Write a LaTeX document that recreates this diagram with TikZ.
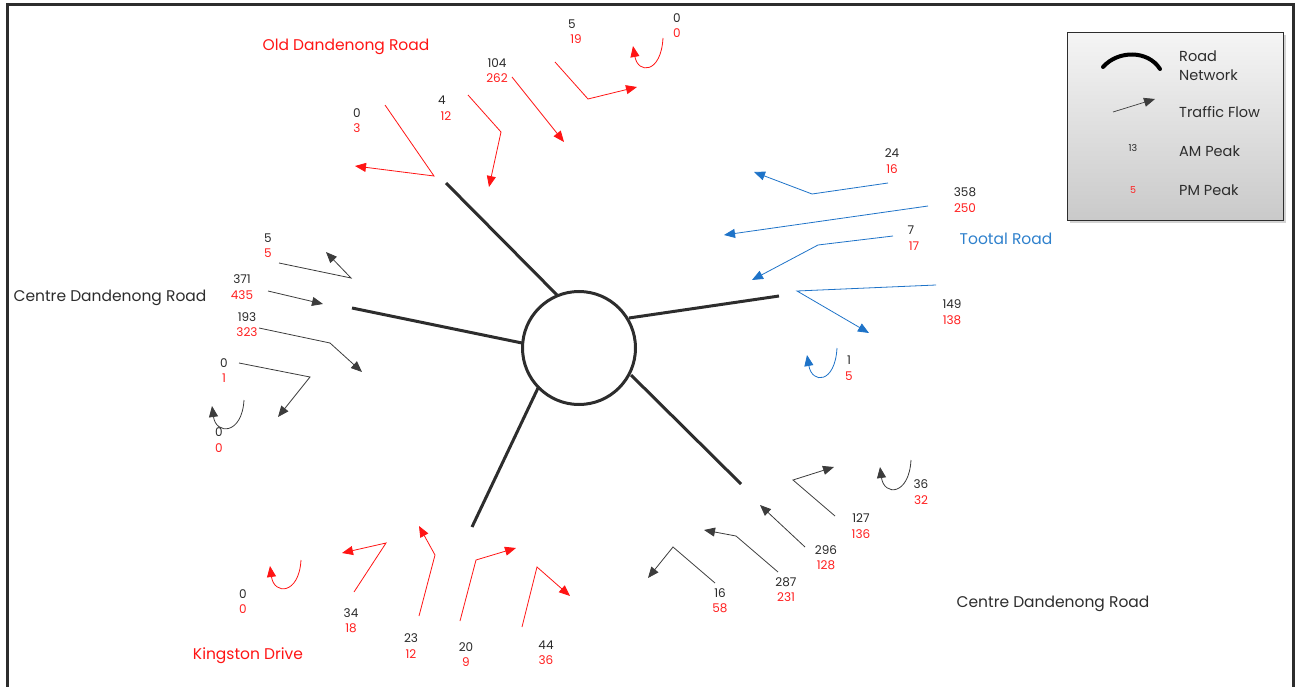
\documentclass[tikz,border=0pt]{standalone}
\usepackage{fontspec}
\setmainfont{Poppins}
\usetikzlibrary{arrows.meta,shadows}
\definecolor{flowred}{RGB}{255,20,20}
\definecolor{flowblue}{RGB}{30,115,200}
\definecolor{flowdark}{RGB}{60,60,60}
\definecolor{amtext}{RGB}{40,40,40}
\definecolor{pmtext}{RGB}{255,30,30}
\definecolor{roadgray}{RGB}{45,45,45}
\definecolor{tootal}{RGB}{46,128,204}
\begin{document}
\begin{tikzpicture}[x=1pt,y=-1pt,
  flowline/.style={line width=0.8pt,-{Triangle[length=11pt,width=9pt]}},
  redflow/.style={flowline,draw=flowred},
  blueflow/.style={flowline,draw=flowblue},
  darkflow/.style={flowline,draw=flowdark},
  roadline/.style={line width=3pt,draw=roadgray},
  am/.style={text=amtext,font=\fontsize{12}{13}\selectfont,inner sep=0pt},
  pm/.style={am,text=pmtext},
  roadname/.style={font=\fontsize{15.5}{18}\selectfont,inner sep=0pt},
  legtext/.style={font=\fontsize{14.5}{16}\selectfont,inner sep=0pt,anchor=west,text=roadgray}]
\useasboundingbox (0,0) rectangle (1295,687);
% frame
\draw[line width=3pt,draw=roadgray] (7,690) -- (7,5) -- (1293,5) -- (1293,690);

% hub and roads
\node[draw=roadgray,line width=3pt,circle,minimum size=113pt,inner sep=0pt] (hub) at (579,348) {};
\coordinate (rt1) at (557,295); \coordinate (rt2) at (446,183);
\coordinate (rr1) at (629,318); \coordinate (rr2) at (779,296);
\coordinate (rl1) at (522,343); \coordinate (rl2) at (352,308);
\coordinate (rb1) at (538,388); \coordinate (rb2) at (472,527);
\coordinate (rc1) at (631,375); \coordinate (rc2) at (741,484);
\draw[roadline] (rt1) -- (rt2);
\draw[roadline] (rr1) -- (rr2);
\draw[roadline] (rl1) -- (rl2);
\draw[roadline] (rb1) -- (rb2);
\draw[roadline] (rc1) -- (rc2);

% ---------- Old Dandenong Road (top, red) ----------
\node[roadname,text=flowred] (nOld) at (346,47) {Old Dandenong Road};
\coordinate (t1s) at (385,105); \coordinate (t1b) at (434,176); \coordinate (t1t) at (355,166);
\draw[redflow] (t1s) -- (t1b) -- (t1t);
\node[am] (t1am) at (357,113) {0}; \node[pm] (t1pm) at (357,128) {3};
\coordinate (t2s) at (468,95); \coordinate (t2b) at (501,132); \coordinate (t2t) at (489,187);
\draw[redflow] (t2s) -- (t2b) -- (t2t);
\node[am] (t2am) at (442,100) {4}; \node[pm] (t2pm) at (446,116) {12};
\coordinate (t3s) at (512,77); \coordinate (t3t) at (564,142);
\draw[redflow] (t3s) -- (t3t);
\node[am] (t3am) at (497,63) {104}; \node[pm] (t3pm) at (497,78) {262};
\coordinate (t4s) at (555,62); \coordinate (t4b) at (588,99); \coordinate (t4t) at (637,87);
\draw[redflow] (t4s) -- (t4b) -- (t4t);
\node[am] (t4am) at (572,24) {5}; \node[pm] (t4pm) at (576,39) {19};
\coordinate (t5s) at (663,38); \coordinate (t5t) at (633,46);
\draw[redflow] (t5s) .. controls (661,74) and (638,74) .. (t5t);
\node[am] (t5am) at (677,18) {0}; \node[pm] (t5pm) at (677,33) {0};

% ---------- Tootal Road (right, blue) ----------
\node[roadname,text=tootal] (nTootal) at (1006,239) {Tootal Road};
\coordinate (b1s) at (888,183); \coordinate (b1b) at (812,194); \coordinate (b1t) at (754,172);
\draw[blueflow] (b1s) -- (b1b) -- (b1t);
\node[am] (b1am) at (892,153) {24}; \node[pm] (b1pm) at (892,169) {16};
\coordinate (b2s) at (928,206); \coordinate (b2t) at (724,235);
\draw[blueflow] (b2s) -- (b2t);
\node[am] (b2am) at (965,192) {358}; \node[pm] (b2pm) at (965,208) {250};
\coordinate (b3s) at (893,236); \coordinate (b3b) at (818,245); \coordinate (b3t) at (752,280);
\draw[blueflow] (b3s) -- (b3b) -- (b3t);
\node[am] (b3am) at (911,230) {7}; \node[pm] (b3pm) at (914,246) {17};
\coordinate (b4s) at (936,285); \coordinate (b4b) at (797,291); \coordinate (b4t) at (869,333);
\draw[blueflow] (b4s) -- (b4b) -- (b4t);
\node[am] (b4am) at (952,304) {149}; \node[pm] (b4pm) at (952,320) {138};
\coordinate (b5s) at (837,348); \coordinate (b5t) at (807,355);
\draw[blueflow] (b5s) .. controls (835,384) and (812,384) .. (b5t);
\node[am] (b5am) at (849,360) {1}; \node[pm] (b5pm) at (849,376) {5};

% ---------- Centre Dandenong Road (left, dark) ----------
\node[roadname,text=roadgray] (nCentreW) at (110,298) {Centre Dandenong Road};
\coordinate (l1s) at (279,263); \coordinate (l1b) at (351,278); \coordinate (l1t) at (326,252);
\draw[darkflow] (l1s) -- (l1b) -- (l1t);
\node[am] (l1am) at (268,238) {5}; \node[pm] (l1pm) at (268,253) {5};
\coordinate (l2s) at (268,291); \coordinate (l2t) at (323,304);
\draw[darkflow] (l2s) -- (l2t);
\node[am] (l2am) at (242,279) {371}; \node[pm] (l2pm) at (242,295) {435};
\coordinate (l3s) at (259,328); \coordinate (l3b) at (330,343); \coordinate (l3t) at (362,372);
\draw[darkflow] (l3s) -- (l3b) -- (l3t);
\node[am] (l3am) at (247,317) {193}; \node[pm] (l3pm) at (247,332) {323};
\coordinate (l4s) at (239,363); \coordinate (l4b) at (310,377); \coordinate (l4t) at (278,417);
\draw[darkflow] (l4s) -- (l4b) -- (l4t);
\node[am] (l4am) at (224,363) {0}; \node[pm] (l4pm) at (224,378) {1};
\coordinate (l5s) at (244,400); \coordinate (l5t) at (212,406);
\draw[darkflow] (l5s) .. controls (242,435) and (216,435) .. (l5t);
\node[am] (l5am) at (219,432) {0}; \node[pm] (l5pm) at (219,448) {0};

% ---------- Kingston Drive (bottom left, red) ----------
\node[roadname,text=flowred] (nKing) at (248,656) {Kingston Drive};
\coordinate (k1s) at (301,560); \coordinate (k1t) at (270,566);
\draw[redflow] (k1s) .. controls (299,595) and (274,595) .. (k1t);
\node[am] (k1am) at (243,594) {0}; \node[pm] (k1pm) at (243,609) {0};
\coordinate (k2s) at (354,592); \coordinate (k2b) at (386,543); \coordinate (k2t) at (342,553);
\draw[redflow] (k2s) -- (k2b) -- (k2t);
\node[am] (k2am) at (351,613) {34}; \node[pm] (k2pm) at (351,628) {18};
\coordinate (k3s) at (419,616); \coordinate (k3b) at (435,555); \coordinate (k3t) at (419,526);
\draw[redflow] (k3s) -- (k3b) -- (k3t);
\node[am] (k3am) at (411,638) {23}; \node[pm] (k3pm) at (411,654) {12};
\coordinate (k4s) at (460,621); \coordinate (k4b) at (476,560); \coordinate (k4t) at (516,548);
\draw[redflow] (k4s) -- (k4b) -- (k4t);
\node[am] (k4am) at (466,647) {20}; \node[pm] (k4pm) at (466,662) {9};
\coordinate (k5s) at (522,627); \coordinate (k5b) at (537,567); \coordinate (k5t) at (570,596);
\draw[redflow] (k5s) -- (k5b) -- (k5t);
\node[am] (k5am) at (546,645) {44}; \node[pm] (k5pm) at (546,660) {36};

% ---------- Centre Dandenong Road (bottom right, dark) ----------
\node[roadname,text=roadgray] (nCentreE) at (1053,604) {Centre Dandenong Road};
\coordinate (c1s) at (715,583); \coordinate (c1b) at (673,547); \coordinate (c1t) at (648,578);
\draw[darkflow] (c1s) -- (c1b) -- (c1t);
\node[am] (c1am) at (720,593) {16}; \node[pm] (c1pm) at (720,608) {58};
\coordinate (c2s) at (778,572); \coordinate (c2b) at (736,536); \coordinate (c2t) at (704,530);
\draw[darkflow] (c2s) -- (c2b) -- (c2t);
\node[am] (c2am) at (786,582) {287}; \node[pm] (c2pm) at (786,597) {231};
\coordinate (c3s) at (805,547); \coordinate (c3t) at (760,505);
\draw[darkflow] (c3s) -- (c3t);
\node[am] (c3am) at (826,550) {296}; \node[pm] (c3pm) at (826,565) {128};
\coordinate (c4s) at (835,516); \coordinate (c4b) at (793,480); \coordinate (c4t) at (834,467);
\draw[darkflow] (c4s) -- (c4b) -- (c4t);
\node[am] (c4am) at (861,518) {127}; \node[pm] (c4pm) at (861,534) {136};
\coordinate (c5s) at (911,460); \coordinate (c5t) at (880,467);
\draw[darkflow] (c5s) .. controls (909,496) and (884,496) .. (c5t);
\node[am] (c5am) at (921,484) {36}; \node[pm] (c5pm) at (921,500) {32};

% ---------- Legend ----------
\node[draw=roadgray,line width=1.2pt,top color=gray!8,bottom color=gray!42,
      minimum width=216pt,minimum height=188pt,inner sep=0pt,anchor=north west,
      drop shadow={shadow xshift=2pt,shadow yshift=-2pt,opacity=0.35}] (legend) at (1067,32) {};
\coordinate (lg1) at (1103,67); \coordinate (lg2) at (1160,69);
\draw[line width=4pt,line cap=round,draw=black] (lg1) .. controls (1118,50) and (1148,50) .. (lg2);
\node[legtext] (lgRoad) at (1179,56) {Road};
\node[legtext] (lgNet) at (1179,75) {Network};
\coordinate (lf1) at (1113,112); \coordinate (lf2) at (1155,99);
\draw[darkflow,line width=0.7pt] (lf1) -- (lf2);
\node[legtext] (lgFlow) at (1179,112) {Traffic Flow};
\node[am,font=\fontsize{9.5}{10}\selectfont] (lgAMn) at (1133,148) {13};
\node[legtext] (lgAM) at (1179,151) {AM Peak};
\node[pm,font=\fontsize{9.5}{10}\selectfont] (lgPMn) at (1133,190) {5};
\node[legtext] (lgPM) at (1179,190) {PM Peak};
\end{tikzpicture}
\end{document}
